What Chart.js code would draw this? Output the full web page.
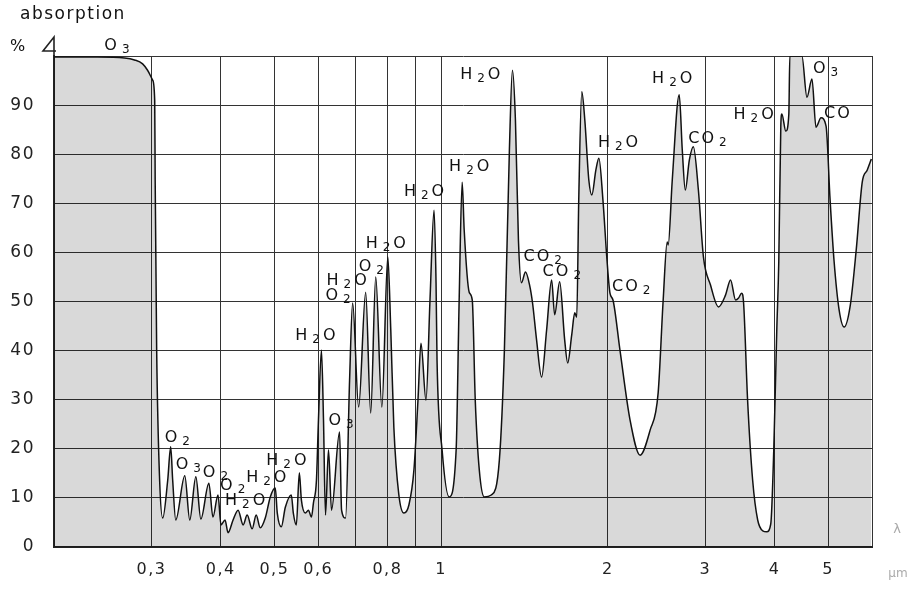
<!DOCTYPE html>
<html><head><meta charset="utf-8">
<script src="https://cdn.jsdelivr.net/npm/chart.js@4/dist/chart.umd.min.js"></script>
<style>html,body{margin:0;padding:0;background:#fff;}#wrap{width:909px;height:590px;position:relative}</style>
</head><body><div id="wrap"><canvas id="c" width="909" height="590"></canvas></div>
<script>
// wavelength in µm
const wavelength = [0.2,0.2394,0.2682,0.2795,0.2891,0.2951,0.3014,0.3040,0.3046,0.3065,0.3103,0.3143,0.3209,0.3249,0.3276,0.3318,0.3445,0.3517,0.3607,0.3683,0.3808,0.3873,0.3955,0.4005,0.4073,0.4124,0.4211,0.4300,0.4391,0.4465,0.4559,0.4636,0.4714,0.4814,0.4916,0.5019,0.5061,0.5146,0.5233,0.5365,0.5410,0.5478,0.5547,0.5594,0.5689,0.5760,0.5833,0.5882,0.5956,0.6006,0.6081,0.6133,0.6184,0.6262,0.6341,0.6557,0.6612,0.6723,0.6836,0.6923,0.7098,0.7309,0.7463,0.7621,0.7817,0.8013,0.8113,0.8217,0.8390,0.8568,0.8750,0.8933,0.9084,0.9198,0.9392,0.9550,0.9712,0.9793,0.9833,1.0042,1.0340,1.0647,1.0781,1.0917,1.1008,1.1240,1.1385,1.1527,1.1722,1.1968,1.2321,1.2742,1.3012,1.3286,1.3453,1.3622,1.3794,1.3969,1.4205,1.4446,1.4628,1.4874,1.5188,1.5509,1.5836,1.6035,1.6373,1.6718,1.6930,1.7216,1.7434,1.7579,1.7726,1.7951,1.8177,1.8486,1.8718,1.9035,1.9275,1.9600,1.9932,2.0183,2.0437,2.1039,2.1937,2.2875,2.3850,2.4660,2.5181,2.5604,2.5710,2.6149,2.6920,2.7260,2.7607,2.8073,2.8548,2.9151,2.9768,3.0647,3.1689,3.2630,3.3320,3.4025,3.4451,3.4889,3.5180,3.5770,3.6529,3.7302,3.8092,3.8733,3.9387,3.9883,4.0384,4.0723,4.1066,4.1238,4.1933,4.2460,4.2636,4.4829,4.5779,4.6747,4.7534,4.8541,4.9568,5.0405,5.1249,5.2332,5.3439,5.4799,5.6190,5.7613,5.8832,5.9826];
// absorption in %
const absorption = [99.8,99.8,99.6,99.2,98.4,97.1,95.1,91.0,74.7,40.1,13.6,5.9,13.6,20.4,13.6,5.5,14.5,5.5,14.3,5.7,13.0,6.1,10.6,4.5,5.5,2.9,5.5,7.5,4.5,6.5,3.7,6.5,3.9,5.9,10.2,12.0,6.9,4.1,8.1,10.6,6.9,4.5,15.1,9.6,6.9,7.5,6.1,9.0,13.6,25.9,40.1,25.9,6.5,19.8,7.5,23.4,7.5,5.9,34.0,49.7,28.5,51.9,27.3,55.0,28.5,59.1,44.2,24.4,10.6,6.9,8.6,15.7,29.9,41.5,29.9,50.3,68.6,53.8,38.1,19.8,10.2,19.8,50.3,74.3,64.6,51.9,50.3,29.9,15.7,10.2,10.6,17.7,40.1,80.9,97.1,87.0,62.5,53.8,56.0,53.4,49.7,42.2,34.6,44.2,54.4,47.3,54.0,42.2,37.5,43.2,47.7,46.8,70.7,92.7,87.0,74.7,71.7,76.8,79.2,70.7,58.5,51.7,50.3,40.1,25.9,18.7,23.8,31.4,50.3,62.1,61.5,74.7,92.1,80.9,72.7,78.8,81.5,72.7,59.1,53.4,48.9,51.3,54.4,50.3,50.7,51.7,49.7,29.9,13.6,5.5,3.3,3.1,4.7,19.8,44.2,58.2,85.7,88.2,84.7,88.2,100,100,91.6,95.3,85.5,87.4,85.7,70.7,58.2,48.3,44.8,49.1,60.5,74.3,76.8,79.0];

const xTickValues = [0.3,0.4,0.5,0.6,0.7,0.8,0.9,1,2,3,4,5,6];
const xTickLabels = ['0,3','0,4','0,5','0,6','','0,8','','1','2','3','4','5',''];
const yTickValues = [0,10,20,30,40,50,60,70,80,90,100];
const yTickLabels = ['0','10','20','30','40','50','60','70','80','90',''];

// absorber annotations: name, wavelength (µm) and absorption (%) where the label sits
const gasNames = ['O₃','O₂','O₃','O₂','O₂','H₂O','H₂O','H₂O','O₃','H₂O','O₂','H₂O','O₂','H₂O','H₂O','H₂O','H₂O','CO₂','CO₂','H₂O','CO₂','H₂O','CO₂','H₂O','O₃','CO'];
const gasX = [0.2466,0.3169,0.3318,0.3714,0.3989,0.4073,0.4446,0.4834,0.6262,0.5455,0.6184,0.6210,0.7098,0.7309,0.8568,1.0340,1.0826,1.4088,1.5253,1.9195,2.0352,2.4049,2.7955,3.3742,4.6942,4.9159];
const gasY = [102.0,22.2,16.7,15.1,12.4,9.4,14.1,17.5,25.7,43.0,51.1,54.2,57.0,61.7,72.3,77.4,96.1,59.1,56.0,82.3,53.0,95.3,83.1,88.0,97.4,88.2];

const axisTitle = 'absorption';
const unitTitle = '%';
const xUnitSymbol = 'λ';
const xUnitText = 'µm';

const FONT = '"DejaVu Sans", "Liberation Sans", sans-serif';
const SUB = {'₀':'0','₁':'1','₂':'2','₃':'3','₄':'4','₅':'5','₆':'6','₇':'7','₈':'8','₉':'9'};

function drawChem(ctx, text, x, y) {
  let cx = x;
  ctx.textBaseline = 'middle';
  ctx.textAlign = 'left';
  for (const ch of text) {
    if (SUB[ch]) {
      ctx.font = '12px ' + FONT;
      cx += 3;
      ctx.fillText(SUB[ch], cx, y + 4);
      cx += ctx.measureText(SUB[ch]).width + 3;
    } else {
      ctx.font = '16px ' + FONT;
      ctx.fillText(ch, cx, y);
      cx += ctx.measureText(ch).width + 2;
    }
  }
}

const spacing = {
  id: 'spacing',
  beforeDraw(chart) { chart.ctx.letterSpacing = '1.5px'; }
};

const annotate = {
  id: 'annotate',
  afterDraw(chart) {
    const {ctx, scales} = chart;
    const xs = scales.x, ys = scales.y;
    ctx.save();
    ctx.letterSpacing = '0px';
    ctx.fillStyle = '#111';
    for (let i = 0; i < gasNames.length; i++) {
      drawChem(ctx, gasNames[i], xs.getPixelForValue(gasX[i]), ys.getPixelForValue(gasY[i]));
    }
    // titles
    ctx.letterSpacing = '1.5px';
    ctx.font = '17px ' + FONT;
    ctx.textBaseline = 'alphabetic';
    ctx.textAlign = 'left';
    ctx.fillText(axisTitle, 20, 19);
    ctx.font = '16px ' + FONT;
    ctx.textBaseline = 'middle';
    ctx.fillText(unitTitle, 10, 47);
    // arrow head at top of y axis
    const ax = chart.chartArea.left, top = chart.chartArea.top;
    ctx.strokeStyle = '#222';
    ctx.lineWidth = 1.6;
    ctx.beginPath();
    ctx.moveTo(ax, top);
    ctx.lineTo(ax, top - 19);
    ctx.lineTo(ax - 11, top - 5);
    ctx.lineTo(ax + 2, top - 5);
    ctx.stroke();
    // x unit
    ctx.letterSpacing = '0px';
    ctx.fillStyle = '#aaa';
    ctx.font = '13px ' + FONT;
    ctx.textAlign = 'center';
    ctx.fillText(xUnitSymbol, 897, 530);
    ctx.font = '12px ' + FONT;
    ctx.fillText(xUnitText, 898, 574);
    ctx.restore();
  }
};

new Chart(document.getElementById('c'), {
  type: 'line',
  data: {
    datasets: [{
      data: wavelength.map((x, i) => ({x: x, y: absorption[i]})),
      borderColor: '#111',
      borderWidth: 1.5,
      pointRadius: 0,
      fill: 'origin',
      backgroundColor: 'rgba(0,0,0,0.15)',
      cubicInterpolationMode: 'monotone'
    }]
  },
  options: {
    responsive: false,
    animation: false,
    devicePixelRatio: 1,
    layout: {padding: {left: 0, top: 56, right: 37, bottom: 0}},
    plugins: {legend: {display: false}, tooltip: {enabled: false}},
    scales: {
      x: {
        type: 'logarithmic', min: 0.2, max: 6,
        afterBuildTicks: s => { s.ticks = xTickValues.map(v => ({value: v})); },
        afterFit: s => { s.height = 43; },
        ticks: {autoSkip: false, maxRotation: 0, minRotation: 0,
          callback: (v, i) => xTickLabels[i],
          font: {family: FONT, size: 16}, color: '#222', padding: 13},
        grid: {color: '#333', lineWidth: 1, drawTicks: false},
        border: {color: '#222', width: 2}
      },
      y: {
        min: 0, max: 100,
        afterBuildTicks: s => { s.ticks = yTickValues.map(v => ({value: v})); },
        afterFit: s => { s.width = 54; },
        ticks: {callback: (v, i) => yTickLabels[i],
          font: {family: FONT, size: 17}, color: '#222', padding: 19},
        grid: {color: '#333', lineWidth: 1, drawTicks: false},
        border: {color: '#222', width: 2}
      }
    }
  },
  plugins: [spacing, annotate]
});
</script>
</body></html>
